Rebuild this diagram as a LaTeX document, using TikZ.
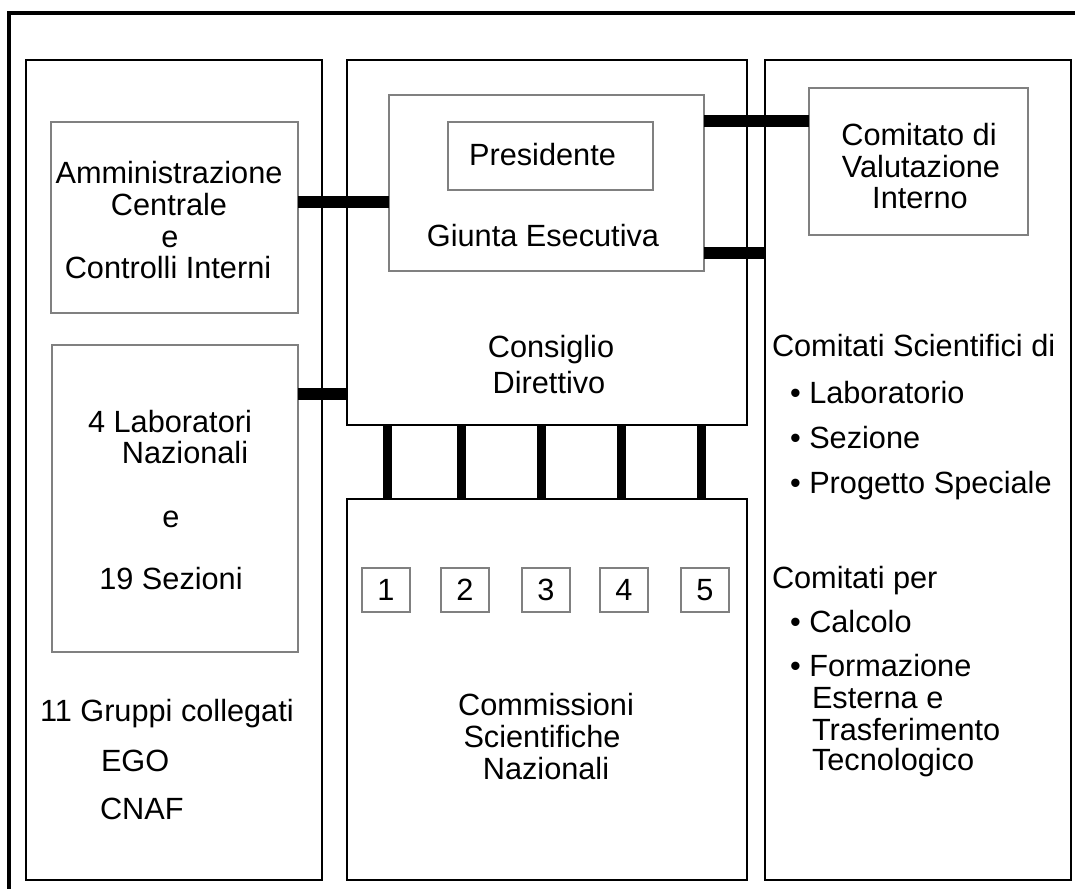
\documentclass[tikz,border=0pt]{standalone}
\usepackage{fontspec}
\setmainfont{Liberation Sans}
\begin{document}
\begin{tikzpicture}[x=1pt,y=-1pt,
  every node/.style={font=\fontsize{30.7}{32}\selectfont, inner sep=0pt, outer sep=0pt},
  colbox/.style={draw=black, line width=2pt},
  greybox/.style={draw=black!50, line width=1.5pt},
  numbox/.style={greybox, minimum width=48, minimum height=44},
  hbar/.style={line width=12pt},
  vbar/.style={line width=9pt}]
  \useasboundingbox (0,0) rectangle (1075,888);
  \fill[white] (0,0) rectangle (1075,888);
  \clip (0,0) rectangle (1075,888);
  % Outer frame
  \draw[line width=4pt] (9,13) rectangle (1110,910);
  % Columns
  \node[colbox, minimum width=296, minimum height=820] (leftcol) at (174,470) {};
  \node[colbox, minimum width=400, minimum height=365] (consiglio) at (547,242.5) {};
  \node[colbox, minimum width=400, minimum height=381] (commissioni) at (547,689.5) {};
  \node[colbox, minimum width=306, minimum height=820] (rightcol) at (918,470) {};
  % Inner boxes
  \node[greybox, minimum width=247, minimum height=191] (amm) at (174.5,217.5) {};
  \node[greybox, minimum width=246, minimum height=307] (lab) at (175,498.5) {};
  \node[greybox, minimum width=315, minimum height=176] (giunta) at (546.5,183) {};
  \node[greybox, minimum width=205, minimum height=68] (pres) at (550.5,156) {};
  \node[greybox, minimum width=219, minimum height=147] (cvi) at (918.5,161.5) {};
  \foreach \n/\x in {1/386,2/465,3/546,4/624,5/705}
    \node[numbox] (cs\n) at (\x,590) {\n};
  % Connectors
  \draw[hbar] (amm.east |- 0,202) -- (giunta.west |- 0,202);
  \draw[hbar] (lab.east |- 0,394) -- (consiglio.west |- 0,394);
  \draw[hbar] (giunta.east |- 0,121) -- (cvi.west |- 0,121);
  \draw[hbar] (giunta.east |- 0,253) -- (rightcol.west |- 0,253);
  \foreach \x in {387,461,541,621,701}
    \draw[vbar] (consiglio.south -| \x,0) -- (commissioni.north -| \x,0);
  % Labels
  \node[anchor=base] (amm1) at (169,183) {Amministrazione};
  \node[anchor=base] (amm2) at (169,215) {Centrale};
  \node[anchor=base] (amm3) at (170,247) {e};
  \node[anchor=base] (amm4) at (168,278) {Controlli Interni};
  \node[anchor=base] (lab1) at (170,432) {4 Laboratori};
  \node[anchor=base] (lab2) at (185,463) {Nazionali};
  \node[anchor=base] (lab3) at (171,527) {e};
  \node[anchor=base] (lab4) at (171,589) {19 Sezioni};
  \node[anchor=base west] (grp1) at (40,721) {11 Gruppi collegati};
  \node[anchor=base west] (grp2) at (101,771) {EGO};
  \node[anchor=base west] (grp3) at (100,819) {CNAF};
  \node[anchor=base] (pres1) at (542.5,165) {Presidente};
  \node[anchor=base] (giunta1) at (543,246) {Giunta Esecutiva};
  \node[anchor=base] (cd1) at (551,357) {Consiglio};
  \node[anchor=base] (cd2) at (549,393) {Direttivo};
  \node[anchor=base] (csn1) at (546,715) {Commissioni};
  \node[anchor=base] (csn2) at (542,747) {Scientifiche};
  \node[anchor=base] (csn3) at (546,779) {Nazionali};
  \node[anchor=base] (cvi1) at (919,145) {Comitato di};
  \node[anchor=base] (cvi2) at (921,177) {Valutazione};
  \node[anchor=base] (cvi3) at (920,208) {Interno};
  \node[anchor=base west] (cs1) at (772,356) {Comitati Scientifici di};
  \node[anchor=base west] (cs2) at (790,403) {• Laboratorio};
  \node[anchor=base west] (cs3) at (790,448) {• Sezione};
  \node[anchor=base west] (cs4) at (790,493) {• Progetto Speciale};
  \node[anchor=base west] (cp1) at (772,588) {Comitati per};
  \node[anchor=base west] (cp2) at (790,632) {• Calcolo};
  \node[anchor=base west] (cp3) at (790,676) {• Formazione};
  \node[anchor=base west] (cp4) at (812,708) {Esterna e};
  \node[anchor=base west] (cp5) at (812,740) {Trasferimento};
  \node[anchor=base west] (cp6) at (812,770) {Tecnologico};
\end{tikzpicture}
\end{document}
